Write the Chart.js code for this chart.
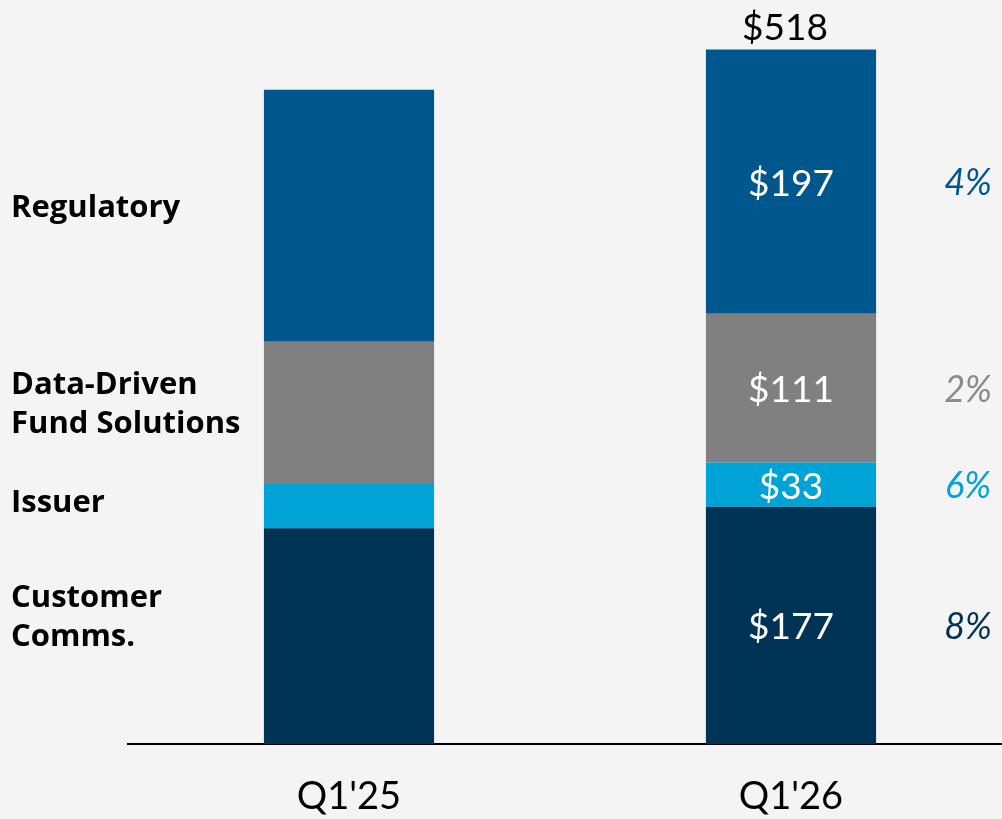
<!DOCTYPE html>
<html>
<head>
<meta charset="utf-8">
<script src="https://cdn.jsdelivr.net/npm/chart.js@4/dist/chart.umd.min.js"></script>
<style>
  html, body { margin: 0; padding: 0; background: #f4f4f4; overflow: hidden; }
  #wrap { width: 1002px; height: 819px; overflow: hidden; position: relative; }
  #chart { position: absolute; left: 0; top: 0; }
</style>
</head>
<body>
<div id="wrap"><canvas id="chart" width="1012" height="819"></canvas></div>
<script>
var quarters = ["Q1'25", "Q1'26"];
var segments = ["Customer Comms.", "Issuer", "Data-Driven Fund Solutions", "Regulatory"];
var customer_vals = [161, 177];
var issuer_vals = [33, 33];
var data_vals = [106, 111];
var regulatory_vals = [188, 197];
var growth = ["8%", "6%", "2%", "4%"];
var totals = [null, 518];
var show_values = [false, true];

// left side labels, top to bottom
var side_labels = [
  {lines: ["Regulatory"], y: 208},
  {lines: ["Data-Driven", "Fund Solutions"], y: 405},
  {lines: ["Issuer"], y: 503},
  {lines: ["Customer", "Comms."], y: 618}
];

var clr_cust = "#003457";
var clr_issuer = "#00a3d6";
var clr_data = "#808080";
var clr_reg = "#00578d";
var pct_clrs = [clr_cust, clr_issuer, "#8a8a8a", clr_reg];
var font_name = "Lato, 'Open Sans', sans-serif";
var side_font = "'Open Sans', Lato, sans-serif";

var labelPlugin = {
  id: 'labels',
  afterDatasetsDraw: function(chart) {
    var ctx = chart.ctx;
    ctx.save();
    // values inside bars + growth on the right
    chart.data.datasets.forEach(function(ds, di) {
      var meta = chart.getDatasetMeta(di);
      meta.data.forEach(function(bar, i) {
        if (!show_values[i]) return;
        var mid = (bar.y + bar.base) / 2;
        ctx.font = "37px " + font_name;
        ctx.fillStyle = "#ffffff";
        ctx.textAlign = "center";
        ctx.textBaseline = "middle";
        ctx.fillText("$" + ds.data[i], bar.x, mid + 2);
        ctx.font = "italic 36px " + font_name;
        ctx.fillStyle = pct_clrs[di];
        ctx.fillText(growth[di], 968, mid + 2);
      });
    });
    // totals above bars
    var topMeta = chart.getDatasetMeta(chart.data.datasets.length - 1);
    topMeta.data.forEach(function(bar, i) {
      if (totals[i] == null) return;
      ctx.font = "37px " + font_name;
      ctx.fillStyle = "#000000";
      ctx.textAlign = "center";
      ctx.textBaseline = "alphabetic";
      ctx.fillText("$" + totals[i], bar.x - 6, bar.y - 10);
    });
    // segment names on the left
    ctx.font = "bold 31px " + side_font;
    ctx.fillStyle = "#000000";
    ctx.textAlign = "left";
    ctx.textBaseline = "middle";
    side_labels.forEach(function(s) {
      var lh = 39;
      var y0 = s.y - (s.lines.length - 1) * lh / 2;
      s.lines.forEach(function(t, k) {
        ctx.fillText(t, 11, y0 + k * lh);
      });
    });
    ctx.restore();
  }
};

var ctx = document.getElementById('chart').getContext('2d');
window.myChart = new Chart(ctx, {
  type: 'bar',
  data: {
    labels: quarters,
    datasets: [
      {label: segments[0], data: customer_vals, backgroundColor: clr_cust},
      {label: segments[1], data: issuer_vals, backgroundColor: clr_issuer},
      {label: segments[2], data: data_vals, backgroundColor: clr_data},
      {label: segments[3], data: regulatory_vals, backgroundColor: clr_reg}
    ]
  },
  options: {
    responsive: false,
    animation: false,
    layout: {
      padding: {left: 128, right: 0, top: 0, bottom: 0}
    },
    datasets: {
      bar: {
        categoryPercentage: 1.0,
        barPercentage: 0.385,
        borderWidth: 0
      }
    },
    scales: {
      x: {
        stacked: true,
        grid: {display: false},
        border: {display: true, color: "#000000", width: 2},
        afterFit: function(scale) { scale.height = 75; },
        ticks: {
          color: "#000000",
          padding: 22,
          font: {family: font_name, size: 38}
        }
      },
      y: {
        stacked: true,
        display: false,
        min: 0,
        max: 555
      }
    },
    plugins: {
      legend: {display: false},
      tooltip: {enabled: false}
    }
  },
  plugins: [labelPlugin]
});
</script>
</body>
</html>
